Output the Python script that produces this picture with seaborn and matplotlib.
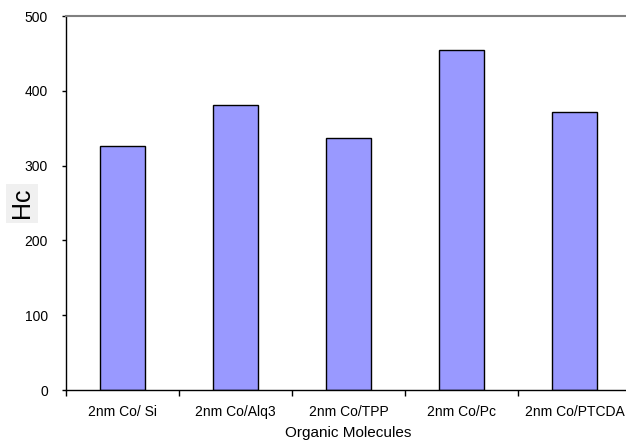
import matplotlib
matplotlib.use("Agg")
import matplotlib.pyplot as plt
import seaborn as sns
import pandas as pd
from matplotlib.ticker import FixedLocator

categories = ["2nm Co/ Si", "2nm Co/Alq3", "2nm Co/TPP", "2nm Co/Pc", "2nm Co/PTCDA"]
hc_values = [326, 381, 337, 455, 372]
y_ticks = [0, 100, 200, 300, 400, 500]

sns.set_theme(style="white")
plt.rcParams['font.family'] = ['Liberation Sans', 'DejaVu Sans']

df = pd.DataFrame({"Organic Molecules": categories, "Hc": hc_values})

fig = plt.figure(figsize=(6.26, 4.42), dpi=100)
ax = fig.add_axes([66/626, 52/442, 565/626, 374/442])

sns.barplot(data=df, x="Organic Molecules", y="Hc", color="#9999FF",
            saturation=1, width=0.4, edgecolor="black", linewidth=1, ax=ax)

ax.set_xlim(-0.5, 4.5)
ax.set_ylim(0, 500)
ax.set_yticks(y_ticks)
ax.set_yticklabels([str(v) for v in y_ticks], fontsize=10, color="black")
ax.set_xticks(range(len(categories)))
ax.set_xticklabels(categories, fontsize=10, color="black")
ax.xaxis.set_minor_locator(FixedLocator([i - 0.5 for i in range(len(categories) + 1)]))
ax.tick_params(axis="x", which="major", length=0, pad=11)
ax.tick_params(axis="x", which="minor", length=4, width=1, color="black", bottom=True)
ax.tick_params(axis="y", which="major", length=3, width=1, color="black", left=True, pad=10)

for side in ["left", "bottom"]:
    ax.spines[side].set_color("black")
    ax.spines[side].set_linewidth(1)
ax.spines["top"].set_color("#808080")
ax.spines["top"].set_linewidth(1.5)
ax.spines["right"].set_visible(False)

ax.set_xlabel("Organic Molecules", fontsize=11, labelpad=5, color="black")
ax.set_ylabel("Hc", fontsize=18, color="black",
              bbox=dict(facecolor="#f0f0f0", edgecolor="none", pad=3))
ax.yaxis.label.set_verticalalignment("center")
ax.yaxis.label.set_horizontalalignment("center")
ax.yaxis.set_label_coords((22 - 66) / 565, 0.5)

fig.savefig("out.png", dpi=100)
